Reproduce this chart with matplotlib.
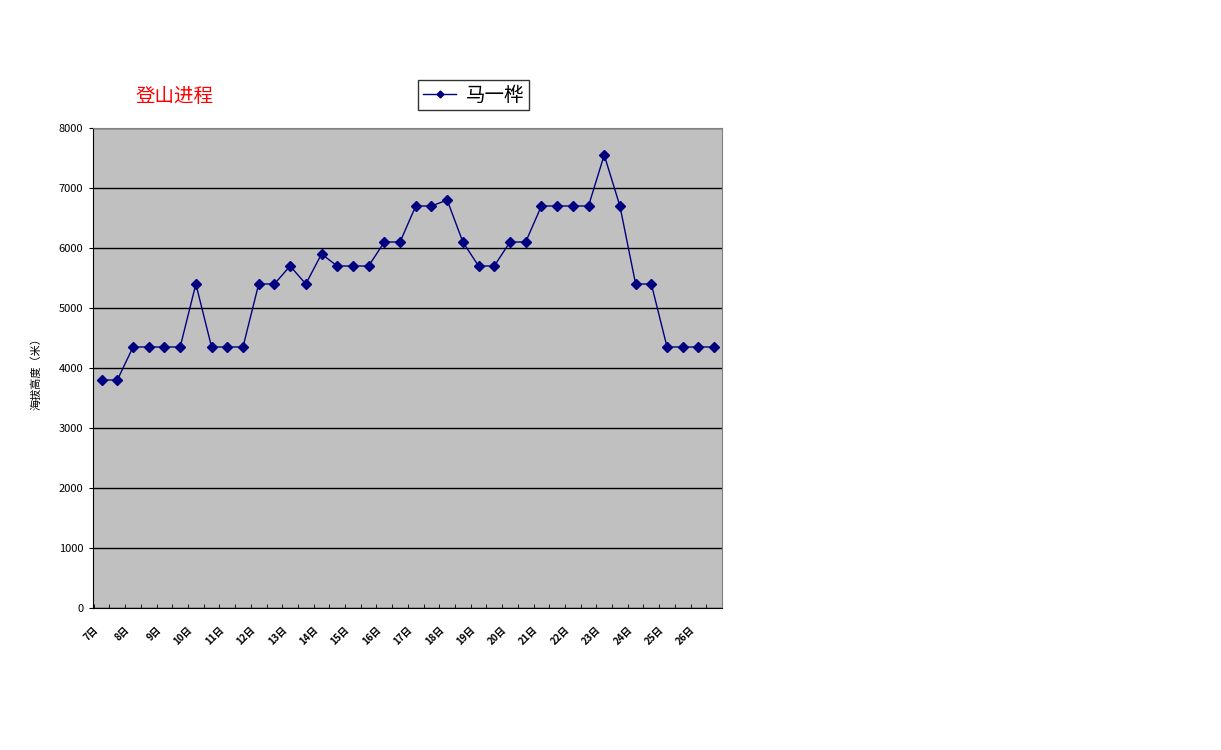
import numpy as np
import matplotlib
matplotlib.use("Agg")
import matplotlib.pyplot as plt

plt.rcParams['font.family'] = ['Noto Sans CJK SC', 'DejaVu Sans']

# two readings per day, 7日 .. 26日
days = [f"{d}日" for d in range(7, 27)]
altitude = [3800, 3800, 4350, 4350, 4350, 4350, 5400, 4350, 4350, 4350,
            5400, 5400, 5700, 5400, 5900, 5700, 5700, 5700, 6100, 6100,
            6700, 6700, 6800, 6100, 5700, 5700, 6100, 6100, 6700, 6700,
            6700, 6700, 7550, 6700, 5400, 5400, 4350, 4350, 4350, 4350]
series_name = "马一桦"

W, H = 1221, 750
fig = plt.figure(figsize=(W / 100, H / 100), dpi=100)
ax = fig.add_axes([93 / W, 1 - 608 / H, (722 - 93) / W, (608 - 128) / H])
ax.set_facecolor("#c0c0c0")

x = np.arange(len(altitude))
line, = ax.plot(x, altitude, color="#000080", lw=1, marker="D", ms=5,
                mfc="#000080", mec="#000080")

ax.set_xlim(-0.5, len(altitude) - 0.5)
ax.set_ylim(0, 8000)
ax.set_yticks(np.arange(0, 8001, 1000))
ax.yaxis.grid(True, color="black", lw=1)
ax.set_axisbelow(True)

# day labels sit slightly left of their first reading (slanted, excel style)
ax.set_xticks(np.arange(0, len(altitude), 2) - 0.55)
ax.set_xticklabels(days, rotation=45, ha="right", rotation_mode="anchor",
                   fontsize=7, fontweight="bold")
ax.set_xticks(np.arange(-0.5, len(altitude)), minor=True)
ax.tick_params(axis="x", which="major", length=0, pad=12)
ax.tick_params(axis="x", which="minor", length=3, direction="in", color="black")
ax.tick_params(axis="y", length=3, direction="out", labelsize=8, pad=4)

for side in ("top", "right"):
    ax.spines[side].set_color("#808080")
for side in ("left", "bottom"):
    ax.spines[side].set_color("black")

ax.set_ylabel("海拔高度（米）", fontsize=8)
ax.yaxis.set_label_coords(-51 / (722 - 93), (608 - 371) / (608 - 128))

fig.text(136 / W, 1 - 97 / H, "登山进程", color="red", fontsize=14, va="center")

leg = ax.legend([line], [series_name], loc="center",
                bbox_to_anchor=((474 - 93) / (722 - 93), (608 - 95) / (608 - 128)),
                fontsize=14, frameon=True, fancybox=False, handlelength=1.7,
                handletextpad=0.5, borderpad=0.25, markerscale=0.7)
leg.get_frame().set_edgecolor("black")
leg.get_frame().set_linewidth(1)

fig.savefig("out.png", dpi=100)
